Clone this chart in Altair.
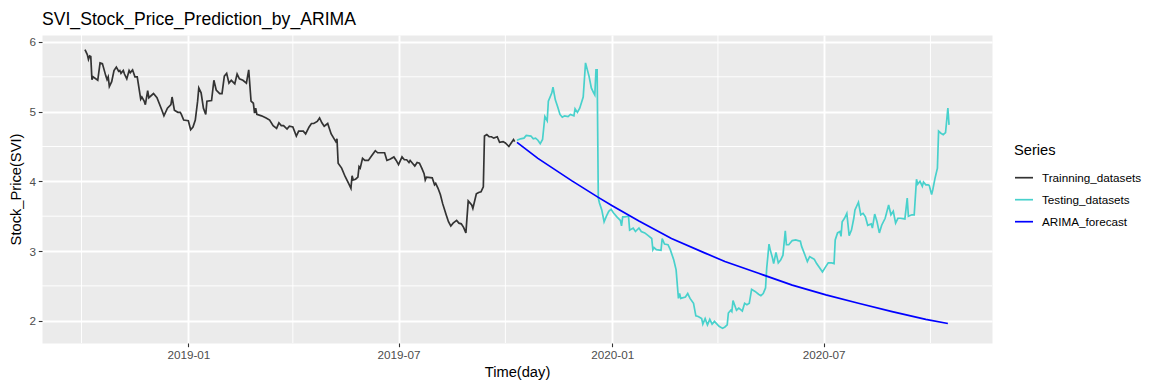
import altair as alt
import pandas as pd

# ---- series values (daily closes, SVI) ----
train_dates = [
    "2018-10-04", "2018-10-06", "2018-10-07", "2018-10-08", "2018-10-09", "2018-10-10", "2018-10-11", "2018-10-15", "2018-10-17", "2018-10-19",
    "2018-10-22", "2018-10-23", "2018-10-24", "2018-10-25", "2018-10-27", "2018-10-29", "2018-10-31", "2018-11-02", "2018-11-03", "2018-11-04",
    "2018-11-06", "2018-11-07", "2018-11-09", "2018-11-11", "2018-11-12", "2018-11-14", "2018-11-16", "2018-11-18", "2018-11-21", "2018-11-22",
    "2018-11-24", "2018-11-25", "2018-11-27", "2018-11-28", "2018-12-02", "2018-12-05", "2018-12-09", "2018-12-11", "2018-12-14", "2018-12-17",
    "2018-12-18", "2018-12-20", "2018-12-23", "2018-12-25", "2018-12-26", "2018-12-28", "2019-01-01", "2019-01-03", "2019-01-05", "2019-01-07",
    "2019-01-09", "2019-01-10", "2019-01-12", "2019-01-14", "2019-01-16", "2019-01-17", "2019-01-21", "2019-01-23", "2019-01-25", "2019-01-28",
    "2019-01-30", "2019-02-01", "2019-02-03", "2019-02-05", "2019-02-07", "2019-02-10", "2019-02-12", "2019-02-14", "2019-02-17", "2019-02-20",
    "2019-02-22", "2019-02-24", "2019-02-26", "2019-02-27", "2019-02-28", "2019-03-01", "2019-03-05", "2019-03-09", "2019-03-12", "2019-03-15",
    "2019-03-18", "2019-03-20", "2019-03-22", "2019-03-24", "2019-03-27", "2019-03-29", "2019-04-01", "2019-04-04", "2019-04-06", "2019-04-10",
    "2019-04-12", "2019-04-15", "2019-04-17", "2019-04-19", "2019-04-22", "2019-04-24", "2019-04-26", "2019-04-28", "2019-05-01", "2019-05-02",
    "2019-05-04", "2019-05-08", "2019-05-09", "2019-05-10", "2019-05-13", "2019-05-16", "2019-05-19", "2019-05-21", "2019-05-22", "2019-05-23",
    "2019-05-25", "2019-05-27", "2019-05-28", "2019-05-29", "2019-05-31", "2019-06-02", "2019-06-05", "2019-06-08", "2019-06-11", "2019-06-13",
    "2019-06-19", "2019-06-21", "2019-06-24", "2019-06-27", "2019-06-29", "2019-07-01", "2019-07-04", "2019-07-06", "2019-07-08", "2019-07-10",
    "2019-07-11", "2019-07-13", "2019-07-15", "2019-07-17", "2019-07-19", "2019-07-21", "2019-07-23", "2019-07-24", "2019-07-25", "2019-07-30",
    "2019-08-01", "2019-08-02", "2019-08-04", "2019-08-06", "2019-08-08", "2019-08-11", "2019-08-13", "2019-08-15", "2019-08-17", "2019-08-20",
    "2019-08-22", "2019-08-24", "2019-08-26", "2019-08-28", "2019-08-30", "2019-09-02", "2019-09-03", "2019-09-06", "2019-09-08", "2019-09-10",
    "2019-09-12", "2019-09-13", "2019-09-15", "2019-09-17", "2019-09-19", "2019-09-21", "2019-09-24", "2019-09-26", "2019-09-29", "2019-10-01",
    "2019-10-04", "2019-10-06", "2019-10-08", "2019-10-09",
]
train_values = [
    5.89, 5.82, 5.75, 5.80, 5.79, 5.46, 5.50, 5.45, 5.70, 5.69,
    5.51, 5.46, 5.50, 5.36, 5.43, 5.59, 5.64, 5.58, 5.59, 5.55,
    5.59, 5.54, 5.47, 5.59, 5.56, 5.60, 5.50, 5.50, 5.18, 5.21,
    5.15, 5.10, 5.30, 5.20, 5.26, 5.20, 5.03, 4.94, 5.05, 5.10,
    5.21, 5.02, 4.99, 4.99, 4.96, 4.88, 4.87, 4.74, 4.78, 4.88,
    5.15, 5.34, 5.27, 5.05, 4.96, 5.15, 5.16, 5.45, 5.31, 5.26,
    5.26, 5.51, 5.55, 5.41, 5.45, 5.40, 5.54, 5.47, 5.45, 5.41,
    5.60, 5.15, 5.12, 4.98, 5.05, 4.96, 4.94, 4.91, 4.88, 4.80,
    4.76, 4.84, 4.80, 4.80, 4.75, 4.79, 4.78, 4.65, 4.72, 4.72,
    4.68, 4.78, 4.83, 4.83, 4.86, 4.91, 4.84, 4.79, 4.83, 4.78,
    4.68, 4.57, 4.61, 4.26, 4.19, 4.07, 3.97, 3.90, 4.08, 4.02,
    4.03, 4.06, 4.21, 4.19, 4.33, 4.30, 4.30, 4.37, 4.44, 4.41,
    4.41, 4.30, 4.32, 4.35, 4.30, 4.24, 4.35, 4.31, 4.31, 4.27,
    4.30, 4.26, 4.22, 4.27, 4.26, 4.19, 4.11, 4.02, 4.06, 4.05,
    3.95, 3.97, 3.90, 3.81, 3.68, 3.52, 3.42, 3.36, 3.40, 3.44,
    3.40, 3.39, 3.34, 3.26, 3.72, 3.66, 3.61, 3.82, 3.84, 3.85,
    3.92, 4.65, 4.67, 4.64, 4.64, 4.62, 4.64, 4.56, 4.57, 4.55,
    4.50, 4.55, 4.60, 4.57,
]

test_dates = [
    "2019-10-11", "2019-10-14", "2019-10-17", "2019-10-19", "2019-10-23", "2019-10-25", "2019-10-27", "2019-10-29", "2019-10-31", "2019-11-02",
    "2019-11-04", "2019-11-06", "2019-11-07", "2019-11-10", "2019-11-11", "2019-11-13", "2019-11-15", "2019-11-17", "2019-11-19", "2019-11-21",
    "2019-11-24", "2019-11-26", "2019-11-29", "2019-11-30", "2019-12-02", "2019-12-04", "2019-12-07", "2019-12-09", "2019-12-12", "2019-12-14",
    "2019-12-16", "2019-12-17", "2019-12-18", "2019-12-19", "2019-12-20", "2019-12-21", "2019-12-23", "2019-12-25", "2019-12-27", "2019-12-29",
    "2019-12-31", "2020-01-02", "2020-01-05", "2020-01-08", "2020-01-09", "2020-01-10", "2020-01-12", "2020-01-15", "2020-01-16", "2020-01-19",
    "2020-01-21", "2020-01-24", "2020-01-26", "2020-01-29", "2020-02-01", "2020-02-04", "2020-02-05", "2020-02-06", "2020-02-08", "2020-02-12",
    "2020-02-13", "2020-02-15", "2020-02-18", "2020-02-20", "2020-02-23", "2020-02-25", "2020-02-27", "2020-02-28", "2020-02-29", "2020-03-04",
    "2020-03-06", "2020-03-08", "2020-03-11", "2020-03-13", "2020-03-15", "2020-03-18", "2020-03-19", "2020-03-21", "2020-03-23", "2020-03-25",
    "2020-03-27", "2020-03-29", "2020-04-02", "2020-04-05", "2020-04-07", "2020-04-09", "2020-04-10", "2020-04-12", "2020-04-13", "2020-04-14",
    "2020-04-17", "2020-04-19", "2020-04-22", "2020-04-24", "2020-04-26", "2020-04-28", "2020-04-30", "2020-05-03", "2020-05-06", "2020-05-08",
    "2020-05-10", "2020-05-12", "2020-05-13", "2020-05-15", "2020-05-16", "2020-05-18", "2020-05-19", "2020-05-21", "2020-05-23", "2020-05-25",
    "2020-05-27", "2020-05-29", "2020-05-30", "2020-06-01", "2020-06-04", "2020-06-07", "2020-06-09", "2020-06-11", "2020-06-12", "2020-06-15",
    "2020-06-17", "2020-06-19", "2020-06-21", "2020-06-23", "2020-06-25", "2020-06-28", "2020-06-30", "2020-07-03", "2020-07-05", "2020-07-08",
    "2020-07-10", "2020-07-11", "2020-07-13", "2020-07-15", "2020-07-16", "2020-07-17", "2020-07-19", "2020-07-21", "2020-07-23", "2020-07-25",
    "2020-07-27", "2020-07-28", "2020-07-31", "2020-08-02", "2020-08-04", "2020-08-06", "2020-08-08", "2020-08-11", "2020-08-12", "2020-08-14",
    "2020-08-16", "2020-08-18", "2020-08-20", "2020-08-23", "2020-08-26", "2020-08-28", "2020-08-30", "2020-09-01", "2020-09-03", "2020-09-05",
    "2020-09-09", "2020-09-11", "2020-09-12", "2020-09-15", "2020-09-17", "2020-09-19", "2020-09-20", "2020-09-22", "2020-09-24", "2020-09-25",
    "2020-09-27", "2020-09-29", "2020-09-30", "2020-10-02", "2020-10-03", "2020-10-05", "2020-10-07", "2020-10-08", "2020-10-10", "2020-10-12",
    "2020-10-14", "2020-10-16", "2020-10-17",
]
test_values = [
    4.59, 4.61, 4.62, 4.66, 4.65, 4.61, 4.62, 4.59, 4.54, 4.60,
    4.93, 4.87, 5.15, 5.27, 5.35, 5.17, 5.07, 4.96, 4.92, 4.94,
    4.93, 4.96, 4.94, 5.04, 4.99, 5.05, 5.21, 5.70, 5.51, 5.34,
    5.27, 5.24, 5.60, 5.60, 3.76, 3.69, 3.59, 3.42, 3.50, 3.57,
    3.60, 3.55, 3.49, 3.44, 3.36, 3.49, 3.49, 3.50, 3.30, 3.33,
    3.28, 3.33, 3.28, 3.26, 3.22, 3.18, 3.02, 3.05, 3.02, 3.01,
    3.18, 3.10, 3.09, 3.02, 2.87, 2.73, 2.32, 2.39, 2.32, 2.34,
    2.39, 2.32, 2.25, 2.07, 2.06, 2.03, 1.95, 2.03, 1.94, 2.02,
    1.95, 1.99, 1.92, 1.89, 1.91, 1.94, 2.11, 2.15, 2.13, 2.29,
    2.15, 2.18, 2.14, 2.25, 2.23, 2.25, 2.45, 2.42, 2.38, 2.36,
    2.39, 2.47, 2.75, 3.10, 3.02, 2.90, 2.82, 2.98, 2.83, 2.87,
    2.94, 3.29, 3.09, 3.09, 3.15, 3.16, 3.15, 3.14, 3.07, 2.94,
    2.85, 2.92, 2.90, 2.88, 2.82, 2.75, 2.70, 2.78, 2.83, 2.83,
    2.82, 3.16, 3.26, 3.28, 3.21, 3.42, 3.47, 3.54, 3.22, 3.30,
    3.47, 3.59, 3.70, 3.52, 3.54, 3.49, 3.37, 3.39, 3.33, 3.53,
    3.42, 3.26, 3.37, 3.47, 3.66, 3.52, 3.57, 3.40, 3.47, 3.47,
    3.46, 3.76, 3.50, 3.52, 3.52, 4.03, 3.96, 4.00, 3.93, 3.99,
    3.95, 3.95, 3.94, 3.81, 3.88, 4.05, 4.19, 4.72, 4.69, 4.67,
    4.70, 5.05, 4.81,
]

forecast_dates = [
    "2019-10-11", "2019-10-29", "2019-11-27", "2019-12-20", "2020-01-01", "2020-01-24", "2020-02-21", "2020-03-21",
    "2020-04-07", "2020-05-06", "2020-06-04", "2020-07-03", "2020-07-31", "2020-08-29", "2020-09-27", "2020-10-16",
]
forecast_values = [
    4.56, 4.33, 4.01, 3.77, 3.65, 3.43, 3.18, 2.97,
    2.85, 2.68, 2.51, 2.37, 2.25, 2.13, 2.02, 1.96,
]

series_names = ["Trainning_datasets", "Testing_datasets", "ARIMA_forecast"]
series_colors = ["#333333", "#48D1CC", "#0000FF"]

# axis breaks
x_major = [(2019, 1), (2019, 7), (2020, 1), (2020, 7)]
x_minor = ["2018-10-01", "2019-04-01", "2019-10-01", "2020-04-01", "2020-10-01"]
y_major = [2, 3, 4, 5, 6]
y_minor = [2.5, 3.5, 4.5, 5.5]
x_start = (2018, 8, 28)
x_end = (2020, 11, 23)
y_range = [1.68, 6.10]

FONT = "Liberation Sans, Arial, Helvetica, sans-serif"


def frame(name, dates, values):
    return pd.DataFrame({
        "Time": dates,
        "Price": values,
        "Series": name,
        "step": list(range(len(dates))),
    })


data = pd.concat(
    [
        frame(series_names[0], train_dates, train_values),
        frame(series_names[1], test_dates, test_values),
        frame(series_names[2], forecast_dates, forecast_values),
    ],
    ignore_index=True,
)
minor_x_df = pd.DataFrame({"Time": x_minor})
minor_y_df = pd.DataFrame({"Price": y_minor})


def x_enc():
    return alt.X(
        "Time:T",
        scale=alt.Scale(
            type="utc",
            domain=[
                alt.DateTime(year=x_start[0], month=x_start[1], date=x_start[2], utc=True),
                alt.DateTime(year=x_end[0], month=x_end[1], date=x_end[2], utc=True),
            ],
        ),
        axis=alt.Axis(
            values=[alt.DateTime(year=y, month=m, date=1, utc=True) for y, m in x_major],
            labelExpr="utcFormat(datum.value, '%Y-%m')",
            title="Time(day)",
            grid=True,
            gridColor="white",
            gridWidth=1.9,
            domain=False,
            tickColor="#333333",
            tickSize=3.7,
            tickWidth=1.1,
            labelFont=FONT,
            labelFontSize=11.7,
            labelColor="#4D4D4D",
            labelPadding=2.9,
            labelFlush=False,
            titleFont=FONT,
            titleFontSize=14.7,
            titleFontWeight="normal",
            titleColor="black",
            titleBaseline="alphabetic",
            titleY=33,
        ),
    )


def y_enc():
    return alt.Y(
        "Price:Q",
        scale=alt.Scale(domain=y_range, nice=False, zero=False),
        axis=alt.Axis(
            values=y_major,
            format="d",
            title="Stock_Price(SVI)",
            grid=True,
            gridColor="white",
            gridWidth=1.9,
            domain=False,
            tickColor="#333333",
            tickSize=3.7,
            tickWidth=1.1,
            labelFont=FONT,
            labelFontSize=11.7,
            labelColor="#4D4D4D",
            labelPadding=2.9,
            labelFlush=False,
            titleFont=FONT,
            titleFontSize=14.7,
            titleFontWeight="normal",
            titleColor="black",
            titleAngle=270,
            titleAlign="center",
            titleBaseline="alphabetic",
            titleX=-21.5,
            titleY=154,
        ),
    )


color_enc = alt.Color(
    "Series:N",
    scale=alt.Scale(domain=series_names, range=series_colors),
    legend=alt.Legend(
        title="Series",
        orient="none",
        legendX=972,
        legendY=108,
        symbolType="stroke",
        symbolSize=324,
        symbolStrokeWidth=1.7,
        labelFont=FONT,
        labelFontSize=11.7,
        labelColor="black",
        labelOffset=8,
        titleFont=FONT,
        titleFontSize=14.7,
        titleFontWeight="normal",
        titleColor="black",
        titlePadding=10,
        rowPadding=5,
        padding=0,
    ),
)

# thin white minor grid lines
minor_x = alt.Chart(minor_x_df).mark_rule(color="white", strokeWidth=0.95).encode(x=x_enc())
minor_y = alt.Chart(minor_y_df).mark_rule(color="white", strokeWidth=0.95).encode(y=y_enc())


def series_line(name):
    return (
        alt.Chart(data)
        .transform_filter(alt.datum.Series == name)
        .mark_line(strokeWidth=1.7)
        .encode(x=x_enc(), y=y_enc(), color=color_enc, order="step:Q")
    )


chart = (
    alt.layer(
        minor_x,
        minor_y,
        series_line(series_names[0]),
        series_line(series_names[1]),
        series_line(series_names[2]),
    )
    .properties(
        width=950,
        height=308,
        padding={"left": 42, "top": 35, "right": 158, "bottom": 42},
        autosize=alt.AutoSizeParams(type="none"),
        title=alt.TitleParams(
            text="SVI_Stock_Price_Prediction_by_ARIMA",
            anchor="start",
            frame="group",
            font=FONT,
            fontSize=17.6,
            fontWeight="normal",
            color="black",
            offset=6,
        ),
    )
    .configure_view(fill="#EBEBEB", stroke="transparent")
)

chart.save("out.html", embed_options={"renderer": "svg", "actions": False})
